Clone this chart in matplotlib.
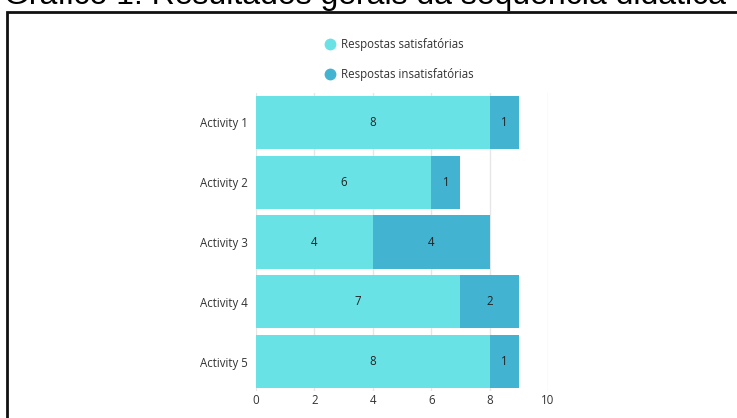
import matplotlib
matplotlib.use("Agg")
import matplotlib.pyplot as plt
from matplotlib.lines import Line2D
from matplotlib.patches import Rectangle
import numpy as np

# data
activities = ['Activity 1', 'Activity 2', 'Activity 3', 'Activity 4', 'Activity 5']
satisfatorias = [8, 6, 4, 7, 8]
insatisfatorias = [1, 1, 4, 2, 1]
series_names = ['Respostas satisfatórias', 'Respostas insatisfatórias']
x_ticks = [0, 2, 4, 6, 8, 10]

c_sat = '#69e2e6'
c_ins = '#42b4d2'
txt = '#333333'
font = ['Open Sans', 'DejaVu Sans']
fs = 8.3

W, H = 737, 418
fig = plt.figure(figsize=(W / 100, H / 100), dpi=100)

# outer frame (runs off the right/bottom edge)
fig.patches.append(Rectangle((7 / W, -0.1), 1.2, 1 - 12 / H + 0.1, transform=fig.transFigure,
                             fill=False, edgecolor='#111111', linewidth=2, zorder=0))

# title, cut off at the top
fig.text(4 / W, 1 - 4 / H, 'Gráfico 1: Resultados gerais da sequência didática',
         family=['Liberation Sans', 'DejaVu Sans'], fontsize=23, color='black',
         ha='left', va='baseline')

ax = fig.add_axes([256 / W, 1 - 391.4 / H, (548 - 256) / W, (391.4 - 92.6) / H])
y = np.arange(len(activities))
h = 0.887
ax.barh(y, satisfatorias, height=h, color=c_sat, zorder=2)
ax.barh(y, insatisfatorias, left=satisfatorias, height=h, color=c_ins, zorder=2)

for i in range(len(activities)):
    ax.text(satisfatorias[i] / 2, y[i], str(satisfatorias[i]), ha='center', va='center',
            family=font, fontsize=fs, color='#222222', zorder=3)
    ax.text(satisfatorias[i] + insatisfatorias[i] / 2, y[i], str(insatisfatorias[i]),
            ha='center', va='center', family=font, fontsize=fs, color='#222222', zorder=3)

ax.set_xlim(0, 10)
ax.set_ylim(len(activities) - 0.5, -0.5)
ax.set_yticks(y)
ax.set_yticklabels(activities, family=font, fontsize=fs, color=txt)
ax.set_xticks(x_ticks)
ax.set_xticklabels([str(t) for t in x_ticks], family=font, fontsize=fs, color=txt)
ax.tick_params(axis='both', length=0)
ax.tick_params(axis='y', pad=5.8)
ax.tick_params(axis='x', pad=1.6)
ax.grid(axis='x', color='#e6e6e6', linewidth=1, zorder=0)
ax.set_axisbelow(True)
for s in ax.spines.values():
    s.set_visible(False)

handles = [Line2D([], [], linestyle='none', marker='o', markersize=7.5,
                  markerfacecolor=c, markeredgecolor=c) for c in (c_sat, c_ins)]
fig.legend(handles, series_names, loc='upper left',
           bbox_to_anchor=(318 / W, 1 - 32.5 / H), frameon=False,
           prop={'family': font, 'size': fs}, labelcolor=txt,
           handlelength=1.0, handletextpad=0.5, labelspacing=1.45, borderpad=0)

fig.savefig('out.png', dpi=100)
